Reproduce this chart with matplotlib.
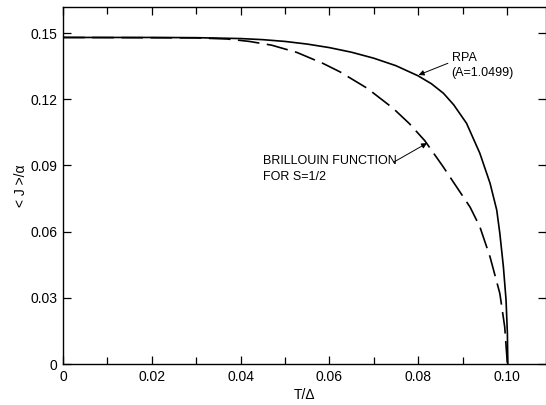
import numpy as np
import matplotlib
matplotlib.use('Agg')
import matplotlib.pyplot as plt
from matplotlib.ticker import MultipleLocator, FixedLocator, FixedFormatter

plt.rcParams['font.family'] = ['Liberation Sans', 'DejaVu Sans']

# RPA magnetization (A = 1.0499)
t_rpa = [0.0, 0.02, 0.03, 0.04, 0.045, 0.05, 0.055, 0.06, 0.065, 0.07, 0.075,
         0.08, 0.083, 0.0857, 0.088, 0.0909, 0.0939, 0.0962, 0.0977, 0.0984,
         0.0992, 0.0998, 0.1001, 0.1002]
j_rpa = [0.148, 0.148, 0.1479, 0.1475, 0.147, 0.1462, 0.145, 0.1434, 0.1413,
         0.1386, 0.1352, 0.1306, 0.1270, 0.1227, 0.1175, 0.1091, 0.0955,
         0.0819, 0.0698, 0.0592, 0.0441, 0.029, 0.014, 0.0]

# Brillouin function, S = 1/2
t_bri = [0.0, 0.03, 0.037, 0.042, 0.047, 0.0527, 0.0586, 0.0624, 0.0685,
         0.0743, 0.078, 0.0815, 0.0856, 0.0917, 0.0939, 0.0962, 0.0984,
         0.0995, 0.1001]
j_bri = [0.148, 0.1478, 0.1473, 0.1462, 0.1445, 0.1412, 0.1362, 0.1324,
         0.125, 0.116, 0.109, 0.1012, 0.0895, 0.0711, 0.0622, 0.0485, 0.032,
         0.0168, 0.0]

xticks = [0, 0.02, 0.04, 0.06, 0.08, 0.10]
xticklabels = ['0', '0.02', '0.04', '0.06', '0.08', '0.10']
yticks = [0, 0.03, 0.06, 0.09, 0.12, 0.15]
yticklabels = ['0', '0.03', '0.06', '0.09', '0.12', '0.15']

fig = plt.figure(figsize=(5.46, 4.05), dpi=100)
ax = fig.add_axes([0.1154, 0.1012, 0.8846, 0.8815])

ax.plot(t_rpa, j_rpa, color='black', lw=1.2, solid_joinstyle='round')
ax.plot(t_bri, j_bri, color='black', lw=1.2, dashes=(13, 4.5),
        dash_joinstyle='round')

ax.set_xlim(0, 0.1088)
ax.set_ylim(0, 0.1618)

ax.xaxis.set_major_locator(FixedLocator(xticks))
ax.xaxis.set_major_formatter(FixedFormatter(xticklabels))
ax.xaxis.set_minor_locator(MultipleLocator(0.01))
ax.yaxis.set_major_locator(FixedLocator(yticks))
ax.yaxis.set_major_formatter(FixedFormatter(yticklabels))
ax.tick_params(which='both', direction='in', top=True, right=True,
               labelsize=10, width=0.9, length=6, pad=4)
ax.tick_params(which='minor', length=5)
for s in ax.spines.values():
    s.set_linewidth(1.0)

ax.set_xlabel('T/Δ', fontsize=10, labelpad=3)
ax.set_ylabel('< J >/α', fontsize=10, labelpad=2)

note = dict(fontsize=9, family=['Liberation Sans Narrow', 'Liberation Sans', 'DejaVu Sans'])
arrow = dict(arrowstyle='-|>', color='black', lw=0.7, mutation_scale=8,
             shrinkA=0, shrinkB=0)
ax.annotate('', xy=(0.0801, 0.1310), xytext=(0.0867, 0.1363), arrowprops=arrow)
ax.text(0.0876, 0.1385, 'RPA', va='center', ha='left', **note)
ax.text(0.0874, 0.1318, '(A=1.0499)', va='center', ha='left', **note)

ax.annotate('', xy=(0.0820, 0.1001), xytext=(0.0745, 0.0915), arrowprops=arrow)
ax.text(0.0451, 0.0920, 'BRILLOUIN FUNCTION', va='center', ha='left', **note)
ax.text(0.0451, 0.0848, 'FOR S=1/2', va='center', ha='left', **note)

fig.savefig('out.png', dpi=100)
